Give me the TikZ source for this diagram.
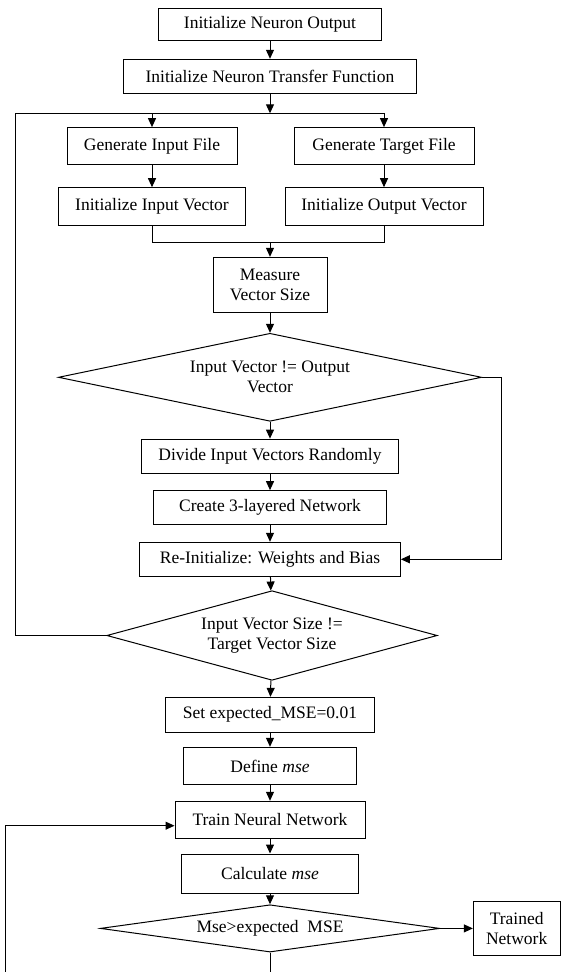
\documentclass[tikz,border=0pt]{standalone}
\usepackage{fontspec}
\setmainfont{Liberation Serif}
\usetikzlibrary{arrows.meta,shapes.geometric}

\begin{document}
\begin{tikzpicture}[x=1pt,y=-1pt,
  box/.style={draw, line width=1pt, inner sep=0pt, align=center, font=\fontsize{17.5}{20}\selectfont},
  dec/.style={box, diamond},
  lin/.style={line width=1pt},
  arr/.style={line width=1pt, -{Triangle[length=9pt,width=8pt]}}]
\useasboundingbox (0,0) rectangle (561,972);
\clip (0,0) rectangle (561,972);

% Initialization
\node[box, minimum width=223.5, minimum height=32.4] (initout) at (270,24.5) {Initialize Neuron Output};
\node[box, minimum width=293, minimum height=34] (transfer) at (270,76.3) {Initialize Neuron Transfer Function};
\coordinate (split) at (270,113.3);
\coordinate (loopL) at (15,113.3);

% Input and target files
\node[box, minimum width=170, minimum height=37.3] (genin) at (152,146.3) {Generate Input File};
\node[box, minimum width=180, minimum height=37.3] (gentgt) at (384,146.3) {Generate Target File};
\node[box, minimum width=187.5, minimum height=38] (initin) at (152,206.7) {Initialize Input Vector};
\node[box, minimum width=198, minimum height=38] (initoutv) at (384,206.7) {Initialize Output Vector};
\coordinate (join) at (270,242.3);
\node[box, minimum width=114, minimum height=55] (measure) at (270,284.8) {Measure\\Vector Size};

% Vector checks
\node[dec, minimum width=423.2, minimum height=88, aspect=4.8] (dia1) at (270,377.3) {Input Vector != Output\\Vector};
\coordinate (loopR) at (501.8,377.3);
\node[box, minimum width=257.4, minimum height=34.3] (divide) at (270,456.3) {Divide Input Vectors Randomly};
\node[box, minimum width=232.5, minimum height=34.3] (create) at (270,507.8) {Create 3-layered Network};
\node[box, minimum width=260.7, minimum height=34] (reinit) at (270,559.3) {Re-Initialize: Weights and Bias};
\node[dec, minimum width=330.5, minimum height=89.6, aspect=3.7] (dia2) at (272,635.5) {Input Vector Size !=\\Target Vector Size};

% Training
\node[box, minimum width=209.4, minimum height=34.7] (setmse) at (270,714.7) {Set expected\_MSE=0.01};
\node[box, minimum width=172.2, minimum height=37.4] (define) at (270,766) {Define \textit{mse}};
\node[box, minimum width=190, minimum height=37.4] (train) at (270,820) {Train Neural Network};
\node[box, minimum width=176.4, minimum height=39] (calc) at (270,873.5) {Calculate \textit{mse}};
\node[dec, minimum width=339.3, minimum height=47.3, aspect=7.2] (dia3) at (270,928.4) {Mse>expected\ \ MSE};
\node[box, minimum width=86.7, minimum height=53.3] (trained) at (516.7,928.4) {Trained\\Network};
\coordinate (loopB) at (5,990);

% Connectors
\draw[arr] (initout) -- (transfer);
\draw[arr] (transfer) -- (split);
\draw[arr] (split) -| (genin);
\draw[arr] (split) -| (gentgt);
\draw[arr] (genin) -- (initin);
\draw[arr] (gentgt) -- (initoutv);
\draw[lin] (initin) |- (join);
\draw[lin] (initoutv) |- (join);
\draw[arr] (join) -- (measure);
\draw[arr] (measure) -- (dia1);
\draw[arr] (dia1) -- (divide);
\draw[arr] (divide) -- (create);
\draw[arr] (create) -- (reinit);
\draw[arr] (dia1.east) -- (loopR) |- (reinit);
\draw[arr] (reinit) -- (dia2);
\draw[lin] (dia2) -| (loopL) -- (split);
\draw[arr] (dia2) -- (setmse);
\draw[arr] (setmse) -- (define);
\draw[arr] (define) -- (train);
\draw[arr] (train) -- (calc);
\draw[arr] (calc) -- (dia3);
\draw[arr] (dia3) -- (trained);
\draw[arr] (dia3) |- (loopB) |- ([yshift=-5.7pt]train.west);

\end{tikzpicture}
\end{document}
